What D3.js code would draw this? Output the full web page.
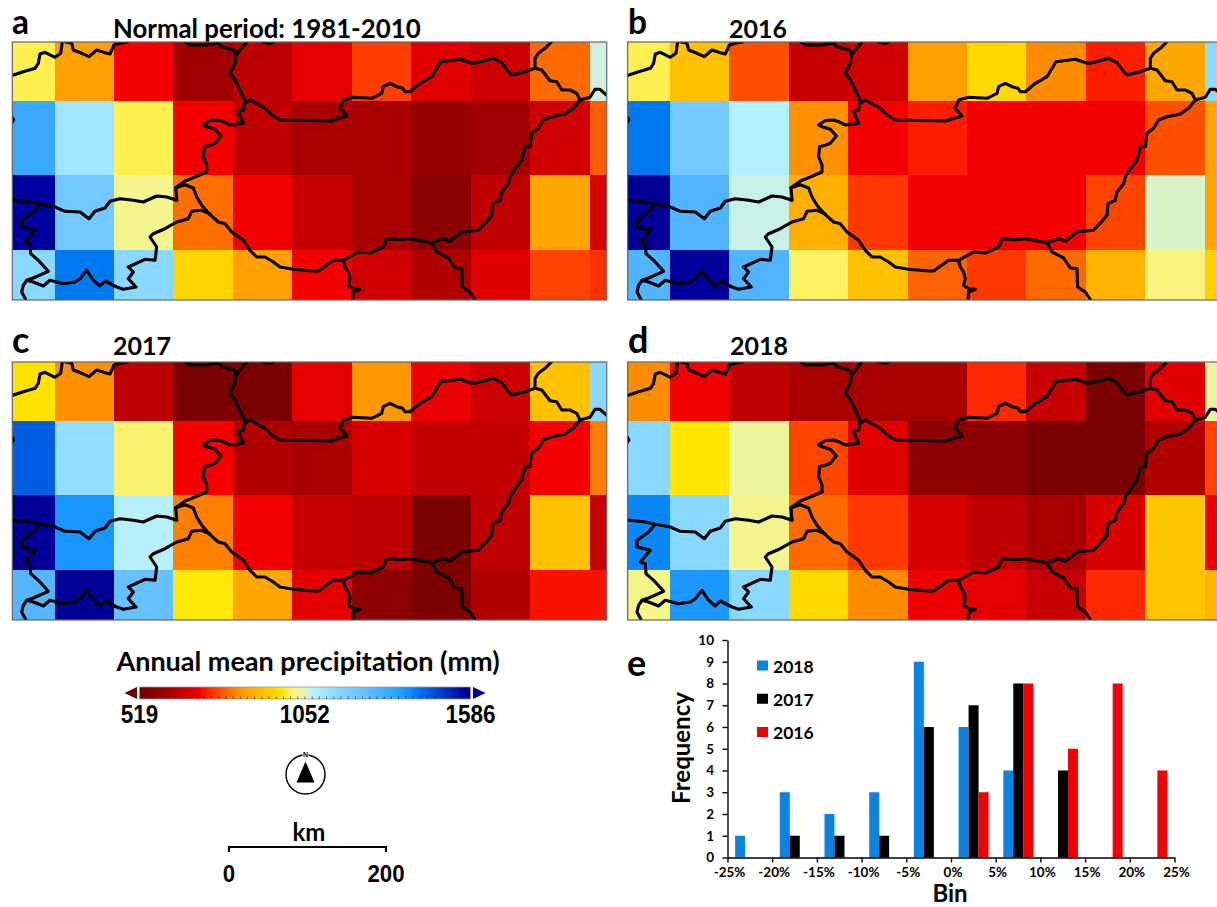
<!DOCTYPE html>
<html>
<head>
<meta charset="utf-8">
<script src="https://cdnjs.cloudflare.com/ajax/libs/d3/7.8.5/d3.min.js"></script>
<style>
    body { margin: 0; background: white; }
    svg { display: block; }
    text { font-family: Lato, "Open Sans", sans-serif; font-weight: 700; fill: black; }
    .num { font-family: "Liberation Sans", Arial, sans-serif; }
    .border { fill: none; stroke: black; stroke-width: 3.1; stroke-linejoin: round; stroke-linecap: round; }
    .axis path, .axis line { stroke: black; stroke-width: 1.4; }
</style>
</head>
<body>
<div class="mainview"></div>
<script>

// annual precipitation (mm), 4 rows x 11 columns
const normal = [
    [999, 860, 711, 604, 640, 695, 765, 690, 662, 802, 1063],
    [1330, 1117, 999, 711, 647, 615, 615, 592, 604, 668, 793],
    [1565, 1213, 1020, 807, 711, 655, 615, 572, 647, 872, 680],
    [1159, 1415, 1159, 946, 860, 711, 668, 626, 690, 770, 750]
];
const y2016 = [
    [999, 915, 780, 655, 668, 860, 955, 834, 735, 872, 1150],
    [1415, 1213, 1085, 840, 711, 735, 711, 711, 711, 780, 872],
    [1575, 1287, 1068, 885, 758, 711, 711, 711, 772, 1055, 872],
    [1287, 1570, 1287, 1005, 915, 795, 758, 802, 890, 1015, 940]
];
const y2017 = [
    [970, 840, 640, 545, 545, 695, 850, 700, 662, 915, 1159],
    [1450, 1140, 1010, 711, 626, 615, 680, 652, 652, 711, 822],
    [1575, 1375, 1080, 822, 711, 655, 642, 545, 647, 915, 655],
    [1280, 1575, 1240, 980, 872, 695, 575, 545, 626, 725, 725]
];
const y2018 = [
    [834, 711, 647, 615, 615, 615, 743, 655, 545, 690, 1038],
    [1159, 978, 1035, 772, 690, 577, 577, 545, 545, 626, 770],
    [1395, 1159, 1022, 802, 758, 680, 647, 615, 680, 925, 700],
    [1018, 1373, 1159, 955, 834, 705, 695, 655, 743, 920, 895]
];

const colorMm = [519, 572, 604, 647, 690, 711, 743, 770, 802, 834, 860, 903, 946, 978, 999, 1020, 1042, 1063, 1085, 1117, 1159, 1213, 1287, 1330, 1373, 1415, 1458, 1511, 1565, 1586];
const colorHex = ["#6e0000", "#8b0000", "#a00000", "#c00000", "#e00000", "#f50000", "#ff2800", "#ff4400", "#ff6a00", "#ff8c00", "#ffa000", "#ffba00", "#ffd400", "#ffe600", "#fff050", "#f4f48c", "#e8f4a4", "#cff0e0", "#b0f0ff", "#a0e4ff", "#88d8ff", "#72c8ff", "#50b4ff", "#3aa8ff", "#1a98ff", "#0078f0", "#0058e0", "#0030b8", "#0000a0", "#00008c"];

// country outlines, in map units
const westGermanCzech = [[12, 75.5], [23.3, 71.7], [35, 68.3], [38.3, 63.3], [40, 54], [45, 52.3], [55, 57.3], [60.7, 53.3], [62.3, 41.7]];
const austriaCzech = [[65, 41.7], [71.7, 43.3], [73.3, 50], [81.7, 53.3], [89, 56.7], [96.7, 50], [105, 52.7], [110, 54], [114, 45], [120, 43.3], [127.3, 42]];
const austriaEast = [[185, 41.7], [190, 45], [206.7, 45], [212, 44], [218.3, 43], [221.7, 47], [230, 49], [235, 50.7], [236, 55], [235, 63.3], [230, 73.3], [235, 80], [240.7, 91.7], [245, 101], [243.3, 110], [238.3, 111.7], [243.3, 123.3], [230, 125], [223.3, 121.7], [218.3, 120], [210, 120.5], [203.3, 125], [208.3, 127.3], [215, 129.3], [221, 136], [215, 143.3], [210, 145.3], [204.3, 146.7], [203.3, 156.7], [206.7, 165], [206.7, 172], [195, 177], [185, 181], [175.7, 187.7], [176.7, 200.3]];
const czechSlovak = [[236, 55], [246.7, 41.7]];
const polishStub = [[262, 41.7], [270, 43.5], [274, 41.7]];
const sloveniaNorth = [[12, 200], [30, 202], [40, 204.3], [55, 207], [65, 211.3], [80, 212], [89, 218.7], [95, 211.3], [105, 208], [110, 201.3], [120, 198.7], [133.3, 200.3], [143.3, 202], [156.7, 196], [166.7, 197], [176.7, 200.3]];
const hungarySouthEast = [[175.7, 187.7], [185, 184.7], [193.3, 188], [196.7, 197], [201.7, 205.3], [210, 214.7], [218.3, 222], [225, 223.7], [231.7, 232], [243.3, 240.3], [250, 250.3], [256.7, 257], [265, 257], [273.3, 262], [280, 267], [293.3, 269.3], [313.3, 271], [318.3, 271], [333.3, 260.3], [343.3, 260.3], [358.3, 252], [370, 253], [383.3, 247], [386.7, 238.7], [400, 239.7], [410, 238.7], [421.7, 241], [431.7, 242.7], [443.3, 238.7], [450, 241.3], [461.7, 232], [478.3, 230.3], [486.7, 221.3], [491.7, 215.3], [492.7, 203.7], [500, 200.3], [501.7, 192], [508.3, 183.7], [510, 177], [513.3, 172], [515, 169], [521.7, 160], [525, 146.7], [530, 146.7], [531.7, 133.3], [538.3, 128.3], [543.3, 120], [551.7, 116.7], [565, 114], [573.3, 108.3], [580, 100]];
const slovakSouth = [[580, 100], [576.7, 93.3], [570, 90], [561.7, 90], [556.7, 81.7], [550, 80.7], [541.7, 70], [535, 68.3], [525, 71.7], [511.7, 75], [508.3, 71.7], [501.7, 62.7], [493.3, 58.3], [485, 60.7], [475, 63.3], [471.7, 63.3], [460, 59.3], [440.7, 61.7], [431.7, 76.7], [420, 83.3], [410, 91.7], [405, 91.7], [402.7, 88.3], [396.7, 86.7], [390, 83.3], [383.3, 86.7], [381.7, 93.3], [371.7, 98.3], [353.3, 97.3], [343.3, 100], [340, 108.3], [346.7, 116], [330, 121], [280, 120], [271.7, 115], [265, 108.3], [250, 100], [245, 103.3]];
const slovakUkraine = [[535, 68.3], [535, 58.3], [538.3, 53.3], [545, 48.3], [551.7, 41.7]];
const ukraineRomania = [[580, 100], [590, 97.3], [595, 89.3], [600, 89.3], [606.5, 95]];
const serbiaRomania = [[431.7, 242.7], [436.7, 252], [448.3, 258], [455, 268], [461.7, 268.7], [462.3, 287], [470, 292], [475, 299.5]];
const croatiaSerbia = [[343.3, 260.3], [345, 267], [348.3, 272], [350, 278.7], [348.3, 285.3], [353.3, 288.7], [360, 289.3], [353.3, 292], [352.7, 299.5]];
const sloveniaCroatia = [[210, 214], [201.7, 210.3], [191.7, 211.3], [188.3, 218.7], [176.7, 222], [165, 228.7], [153.3, 233.7], [150, 237], [156.7, 247], [155, 260.3], [145, 259.3], [128.3, 267], [133.3, 272], [128.3, 278.7], [136, 287], [123.3, 289.3], [116.7, 287], [105, 281], [100, 286], [93.3, 280.3], [86.7, 270.3], [80, 278.7], [75, 282], [63.3, 283.7], [50, 280.3], [43.3, 286], [33.3, 282], [26.7, 280.3], [23.3, 285.3], [21.7, 292], [25.7, 299.5]];
const sloveniaItaly = [[40, 204.3], [33.3, 212], [21.7, 220.3], [21.7, 227], [35, 230.3], [25, 242], [30, 243.7], [30.7, 253.7], [38.3, 260.3], [48.3, 271.3], [33.3, 278], [26.7, 280.3]];
const leftNub = [[12, 117], [13.5, 120], [12, 122.5]];
const borders = [westGermanCzech, austriaCzech, austriaEast, czechSlovak, polishStub, sloveniaNorth, hungarySouthEast, slovakSouth, slovakUkraine, ukraineRomania, serbiaRomania, croatiaSerbia, sloveniaCroatia, sloveniaItaly, leftNub];

const barTicks = [519, 1052, 1586];
const scaleBarKm = [0, 200];

// panel e
const bins = ["-25", "-20", "-15", "-10", "-5", "0", "5", "10", "15", "20"];
const binEdges = [-25, -20, -15, -10, -5, 0, 5, 10, 15, 20, 25];
const years = ["2018", "2017", "2016"];
const freq2018 = [1, 3, 2, 3, 9, 6, 4, 0, 0, 0];
const freq2017 = [0, 1, 1, 1, 6, 7, 8, 4, 0, 0];
const freq2016 = [0, 0, 0, 0, 0, 3, 8, 5, 8, 4];
const yearColors = ["#0a84e0", "#000000", "#f50000"];

const dim = { width: 1217, height: 907 };
const panelDim = { width: 594.4, height: 258 };

const svg = d3.select(".mainview").append("svg")
    .attr("width", dim.width)
    .attr("height", dim.height);

const color = d3.scaleLinear().domain(colorMm).range(colorHex);

// one map panel ///////////////////////////////////

const cellX = d3.scaleLinear().domain([0, 11]).range([-17.25, 636.7]);
const cellY = d3.scaleLinear().domain([0, 4]).range([-15.35, 282.05]);
const mapX = d3.scaleLinear().domain([12.3, 606.7]).range([0, panelDim.width]);
const mapY = d3.scaleLinear().domain([42, 300]).range([0, panelDim.height]);

const borderLine = d3.line().x(d => mapX(d[0])).y(d => mapY(d[1]));

function drawMap(id, grid, left, top) {

    const panel = svg.append("g")
        .attr("transform", `translate(${left}, ${top})`);

    panel.append("clipPath").attr("id", "clip-" + id)
        .append("rect")
        .attr("width", panelDim.width)
        .attr("height", panelDim.height);

    const inner = panel.append("g").attr("clip-path", `url(#clip-${id})`);

    const cells = grid.flatMap((row, r) => row.map((v, c) => ({ r, c, v })));

    inner.selectAll("rect")
        .data(cells)
        .join("rect")
        .attr("x", d => cellX(d.c))
        .attr("y", d => cellY(d.r))
        .attr("width", d => cellX(d.c + 1) - cellX(d.c) + 0.3)
        .attr("height", d => cellY(d.r + 1) - cellY(d.r) + 0.3)
        .attr("shape-rendering", "crispEdges")
        .attr("fill", d => color(d.v));

    inner.selectAll("path")
        .data(borders)
        .join("path")
        .attr("class", "border")
        .attr("d", borderLine);

    panel.append("rect")
        .attr("width", panelDim.width)
        .attr("height", panelDim.height)
        .attr("fill", "none")
        .attr("stroke", "#666")
        .attr("stroke-width", 1.2);
}

function addText(str, x, y, size, anchor) {
    return svg.append("text")
        .attr("x", x)
        .attr("y", y)
        .attr("font-size", size)
        .attr("text-anchor", anchor || "start")
        .text(str);
}

// titles go under the panels, the descenders get cut in the original
addText("Normal period: 1981-2010", 113, 38, 25.8);
addText("2016", 729, 38, 25);
addText("2017", 113, 355, 25);
addText("2018", 730, 355, 25);

drawMap("a", normal, 12.3, 42);
drawMap("b", y2016, 627.6, 42);
drawMap("c", y2017, 12.3, 362);
drawMap("d", y2018, 627.6, 362);

addText("a", 12, 34, 33.5);
addText("b", 628, 34, 33.5);
addText("c", 12, 353, 36);
addText("d", 628, 353, 36);
addText("e", 627, 676, 36);

// colour bar //////////////////////////////////////

const bar = { x0: 139.5, x1: 470.5, y0: 687, y1: 699 };
const barX = d3.scaleLinear().domain([519, 1586]).range([bar.x0, bar.x1]);

const grad = svg.append("defs").append("linearGradient")
    .attr("id", "bar-grad");
grad.selectAll("stop")
    .data(colorMm)
    .join("stop")
    .attr("offset", d => (d - 519) / (1586 - 519))
    .attr("stop-color", d => color(d));

svg.append("rect")
    .attr("x", bar.x0).attr("y", bar.y0)
    .attr("width", bar.x1 - bar.x0).attr("height", bar.y1 - bar.y0)
    .attr("fill", "url(#bar-grad)")
    .attr("stroke", "#999")
    .attr("stroke-width", 0.8);

svg.append("g")
    .attr("transform", `translate(0, ${bar.y1})`)
    .selectAll("line")
    .data(d3.range(1, 46))
    .join("line")
    .attr("x1", d => bar.x0 + d * (bar.x1 - bar.x0) / 46)
    .attr("x2", d => bar.x0 + d * (bar.x1 - bar.x0) / 46)
    .attr("y1", -2.5)
    .attr("y2", 0)
    .attr("stroke", "#333")
    .attr("stroke-width", 0.7);

svg.append("path")
    .attr("d", d3.line()([[bar.x0 - 2.5, bar.y0], [bar.x0 - 2.5, bar.y1], [bar.x0 - 15, (bar.y0 + bar.y1) / 2]]))
    .attr("fill", color(519));
svg.append("path")
    .attr("d", d3.line()([[bar.x1 + 2.5, bar.y0], [bar.x1 + 2.5, bar.y1], [bar.x1 + 15, (bar.y0 + bar.y1) / 2]]))
    .attr("fill", color(1586));

addText("Annual mean precipitation (mm)", 308, 671, 27, "middle");

svg.selectAll(".bar-tick")
    .data(barTicks)
    .join("text")
    .attr("class", "bar-tick num")
    .attr("x", d => barX(d))
    .attr("y", 723)
    .attr("font-size", 25)
    .attr("text-anchor", "middle")
    .attr("textLength", d => String(d).length * 12.5)
    .attr("lengthAdjust", "spacingAndGlyphs")
    .text(d => d);

// north arrow /////////////////////////////////////

const north = { x: 305.5, y: 774.5 };

svg.append("circle")
    .attr("cx", north.x).attr("cy", north.y).attr("r", 19.5)
    .attr("fill", "white").attr("stroke", "black").attr("stroke-width", 1.4);
svg.append("path")
    .attr("d", d3.line()([[north.x, north.y - 13], [north.x + 9, north.y + 8], [north.x - 9, north.y + 8]]))
    .attr("fill", "black");
svg.append("rect")
    .attr("x", north.x - 3).attr("y", north.y - 24)
    .attr("width", 6).attr("height", 7)
    .attr("fill", "white");
addText("N", north.x, north.y - 17.5, 7, "middle").attr("class", "num");

// scale bar ///////////////////////////////////////

const kmX = d3.scaleLinear().domain(scaleBarKm).range([229, 386]);

svg.append("path")
    .attr("d", d3.line()([[kmX(0), 852], [kmX(0), 847], [kmX(200), 847], [kmX(200), 852]]))
    .attr("fill", "none")
    .attr("stroke", "black")
    .attr("stroke-width", 2.2);

addText("km", 309, 841, 24, "middle");

svg.selectAll(".km-label")
    .data(scaleBarKm)
    .join("text")
    .attr("class", "km-label num")
    .attr("x", d => kmX(d))
    .attr("y", 881.5)
    .attr("font-size", 24)
    .attr("text-anchor", "middle")
    .attr("textLength", d => String(d).length * 12.4)
    .attr("lengthAdjust", "spacingAndGlyphs")
    .text(d => d);

// panel e /////////////////////////////////////////

const chart = { left: 727.5, right: 1174.5, top: 640, bottom: 857.5 };

const x = d3.scaleLinear()
    .domain([-25, 25])
    .range([chart.left, chart.right]);
const band = d3.scaleBand()
    .domain(bins)
    .range([chart.left, chart.right])
    .paddingInner(0)
    .paddingOuter(0);
const inner = d3.scaleBand()
    .domain(years)
    .range([band.bandwidth() * 0.17, band.bandwidth() * 0.84]);
const y = d3.scaleLinear()
    .domain([0, 10])
    .range([chart.bottom, chart.top]);

const series = [freq2018, freq2017, freq2016];

svg.append("g")
    .selectAll("g")
    .data(series)
    .join("g")
    .attr("fill", (d, i) => yearColors[i])
    .each(function(values, i) {
        d3.select(this).selectAll("rect")
            .data(values)
            .join("rect")
            .attr("x", (d, j) => band(bins[j]) + inner(years[i]))
            .attr("y", d => y(d))
            .attr("width", inner.bandwidth())
            .attr("height", d => y(0) - y(d));
    });

const xAxis = d3.axisBottom(x)
    .tickValues(binEdges)
    .tickFormat(d => d + "%")
    .tickSize(5)
    .tickSizeOuter(0)
    .tickPadding(5);

const yAxis = d3.axisLeft(y)
    .ticks(10)
    .tickSize(5)
    .tickSizeOuter(0)
    .tickPadding(8.5);

svg.append("g")
    .attr("class", "axis")
    .attr("transform", `translate(0, ${chart.bottom})`)
    .call(xAxis)
    .call(g => g.selectAll("text").attr("font-size", 13.5).attr("font-family", "Lato").attr("dx", 1.5));

svg.append("g")
    .attr("class", "axis")
    .attr("transform", `translate(${chart.left}, 0)`)
    .call(yAxis)
    .call(g => g.selectAll("text").attr("font-size", 13.5).attr("font-family", "Lato"));

addText("Bin", 950, 902, 24, "middle");
addText("Frequency", 0, 0, 24, "middle")
    .attr("transform", "translate(690, 748) rotate(-90)");

// legend
const legendY = d3.scalePoint().domain(years).range([665.5, 732]);

svg.selectAll(".legend-swatch")
    .data(years)
    .join("rect")
    .attr("class", "legend-swatch")
    .attr("x", 757)
    .attr("y", d => legendY(d) - 5)
    .attr("width", 11)
    .attr("height", 10)
    .attr("fill", (d, i) => yearColors[i]);

svg.selectAll(".legend-label")
    .data(years)
    .join("text")
    .attr("class", "legend-label")
    .attr("x", 773)
    .attr("y", d => legendY(d) + 7)
    .attr("font-size", 17.5)
    .text(d => d);

</script>
</body>
</html>
